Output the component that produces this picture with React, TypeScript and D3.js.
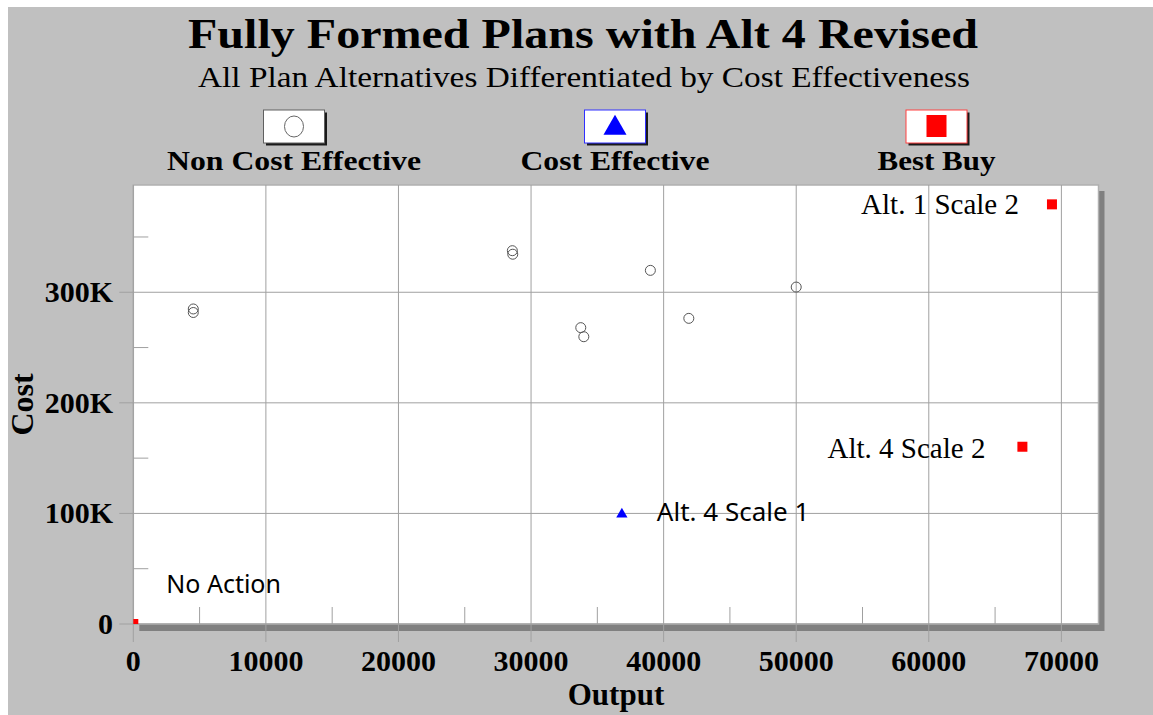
import React from "react";
import * as d3 from "d3";

const xTicks = [0, 10000, 20000, 30000, 40000, 50000, 60000, 70000];
const xMinorTicks = [5000, 15000, 25000, 35000, 45000, 55000, 65000];
const yTicks = [0, 100000, 200000, 300000];
const yTickLabels = ["0", "100K", "200K", "300K"];
const yMinorTicks = [50000, 150000, 250000, 350000];

const nonCostEffectiveOutput = [4525, 4525, 28590, 28620, 39000, 50000, 33750, 33980, 41900];
const nonCostEffectiveCost = [284900, 281700, 337600, 334400, 319800, 304700, 268000, 259800, 276400];

const costEffectiveOutput = [36850];
const costEffectiveCost = [100100];
const costEffectiveLabels = ["Alt. 4 Scale 1"];

const bestBuyOutput = [0, 69290, 67060];
const bestBuyCost = [0, 379500, 160300];
const bestBuyLabels = ["No Action", "Alt. 1 Scale 2", "Alt. 4 Scale 2"];

const legendLabels = ["Non Cost Effective", "Cost Effective", "Best Buy"];

const W = 1153;
const H = 715;
const PL = 133.3, PR = 1098.5, PT = 185, PB = 624;

const serif = "'Liberation Serif', 'Times New Roman', serif";
const sans = "'Noto Sans', 'Open Sans', sans-serif";

export default function App() {
  const x = d3.scaleLinear().domain([0, 72800]).range([PL, PR]);
  const y = d3.scaleLinear().domain([0, 397000]).range([PB, PT]);
  const tri = d3.symbol().type(d3.symbolTriangle).size(55)();
  const legTri = d3.symbol().type(d3.symbolTriangle).size(230)();

  const gridColor = "#a0a0a0";

  const bestBuyLabelStyle = [
    { dx: 33, dy: -31, anchor: "start", font: sans, size: 25 },
    { dx: -33, dy: 10, anchor: "end", font: serif, size: 29 },
    { dx: -37, dy: 11, anchor: "end", font: serif, size: 29 },
  ];

  const legendCenters = [294, 615, 936.5];
  const legendBorders = ["#606060", "#3030ff", "#ff4040"];
  const legendTextLen = [254, 189, 118];

  return (
    <svg
      width={W}
      height={H}
      style={{ position: "absolute", left: 0, top: 0, display: "block" }}
    >
      <defs>
        <clipPath id="plotClip">
          <rect x={PL} y={PT} width={PR - PL} height={PB - PT} />
        </clipPath>
      </defs>
      <rect x={0} y={0} width={W} height={H} fill="#ffffff" />
      <rect x={8} y={7} width={W - 8} height={H - 7} fill="#c0c0c0" />

      <text
        x={583}
        y={48}
        textAnchor="middle"
        fontFamily={serif}
        fontWeight="bold"
        fontSize={43}
        textLength={790}
        lengthAdjust="spacingAndGlyphs"
        fill="#000"
      >
        Fully Formed Plans with Alt 4 Revised
      </text>
      <text
        x={584}
        y={87}
        textAnchor="middle"
        fontFamily={serif}
        fontSize={29}
        textLength={772}
        lengthAdjust="spacingAndGlyphs"
        fill="#000"
      >
        All Plan Alternatives Differentiated by Cost Effectiveness
      </text>

      {legendLabels.map((lab, i) => {
        const cx = legendCenters[i];
        const bx = cx - 30.5, by = 110, bw = 61, bh = 33;
        return (
          <g key={lab}>
            <rect x={bx + 2.5} y={by + 2.5} width={bw} height={bh} fill="#1a1a1a" />
            <rect x={bx} y={by} width={bw} height={bh} fill="#ffffff" stroke={legendBorders[i]} strokeWidth={1} />
            {i === 0 && (
              <ellipse cx={cx} cy={126.5} rx={9.5} ry={10.5} fill="none" stroke="#666" strokeWidth={1} />
            )}
            {i === 1 && (
              <path d={legTri} transform={`translate(${cx},${128})`} fill="#0000ff" />
            )}
            {i === 2 && (
              <rect x={cx - 10} y={115} width={20} height={22} fill="#ff0000" />
            )}
            <text
              x={cx}
              y={170}
              textAnchor="middle"
              fontFamily={serif}
              fontWeight="bold"
              fontSize={28}
              textLength={legendTextLen[i]}
              lengthAdjust="spacingAndGlyphs"
              fill="#000"
            >
              {lab}
            </text>
          </g>
        );
      })}

      <rect x={PL + 6} y={PT + 6} width={PR - PL} height={PB - PT + 1} fill="#808080" />
      <rect x={PL} y={PT} width={PR - PL} height={PB - PT} fill="#ffffff" stroke="#b0b0b0" strokeWidth={1.5} />

      {xTicks.map((t) => (
        <line key={"xg" + t} x1={x(t)} x2={x(t)} y1={PT} y2={PB + 18} stroke={gridColor} strokeWidth={1} />
      ))}
      {yTicks.map((t) => (
        <line key={"yg" + t} x1={PL - 14} x2={PR} y1={y(t)} y2={y(t)} stroke={gridColor} strokeWidth={1} />
      ))}
      {xMinorTicks.map((t) => (
        <line key={"xm" + t} x1={x(t)} x2={x(t)} y1={PB} y2={PB - 17} stroke={gridColor} strokeWidth={1} />
      ))}
      {yMinorTicks.map((t) => (
        <line key={"ym" + t} x1={PL} x2={PL + 15} y1={y(t)} y2={y(t)} stroke={gridColor} strokeWidth={1} />
      ))}

      {xTicks.map((t) => (
        <text
          key={"xl" + t}
          x={x(t)}
          y={671}
          textAnchor="middle"
          fontFamily={serif}
          fontWeight="bold"
          fontSize={30}
          fill="#000"
        >
          {t}
        </text>
      ))}
      {yTicks.map((t, i) => (
        <text
          key={"yl" + t}
          x={113}
          y={y(t) + 10}
          textAnchor="end"
          fontFamily={serif}
          fontWeight="bold"
          fontSize={30}
          fill="#000"
        >
          {yTickLabels[i]}
        </text>
      ))}

      <text x={616} y={705} textAnchor="middle" fontFamily={serif} fontWeight="bold" fontSize={31} fill="#000">
        Output
      </text>
      <text
        transform={`translate(33,${(PT + PB) / 2}) rotate(-90)`}
        textAnchor="middle"
        fontFamily={serif}
        fontWeight="bold"
        fontSize={32}
        fill="#000"
      >
        Cost
      </text>

      <g clipPath="url(#plotClip)">
        {nonCostEffectiveOutput.map((o, i) => (
          <circle
            key={"nce" + i}
            cx={x(o)}
            cy={y(nonCostEffectiveCost[i])}
            r={5}
            fill="none"
            stroke="#555"
            strokeWidth={1}
          />
        ))}
        {costEffectiveOutput.map((o, i) => (
          <path
            key={"ce" + i}
            d={tri}
            transform={`translate(${x(o)},${y(costEffectiveCost[i]) + 1})`}
            fill="#0000ff"
          />
        ))}
        {bestBuyOutput.map((o, i) => (
          <rect
            key={"bb" + i}
            x={x(o) - 5}
            y={y(bestBuyCost[i]) - 5}
            width={10}
            height={10}
            fill="#ff0000"
          />
        ))}
      </g>

      {costEffectiveOutput.map((o, i) => (
        <text
          key={"cel" + i}
          x={x(o) + 35}
          y={y(costEffectiveCost[i]) + 8}
          fontFamily={sans}
          fontSize={26}
          fill="#000"
        >
          {costEffectiveLabels[i]}
        </text>
      ))}
      {bestBuyOutput.map((o, i) => {
        const s = bestBuyLabelStyle[i];
        return (
          <text
            key={"bbl" + i}
            x={x(o) + s.dx}
            y={y(bestBuyCost[i]) + s.dy}
            textAnchor={s.anchor as any}
            fontFamily={s.font}
            fontSize={s.size}
            fill="#000"
          >
            {bestBuyLabels[i]}
          </text>
        );
      })}
    </svg>
  );
}
